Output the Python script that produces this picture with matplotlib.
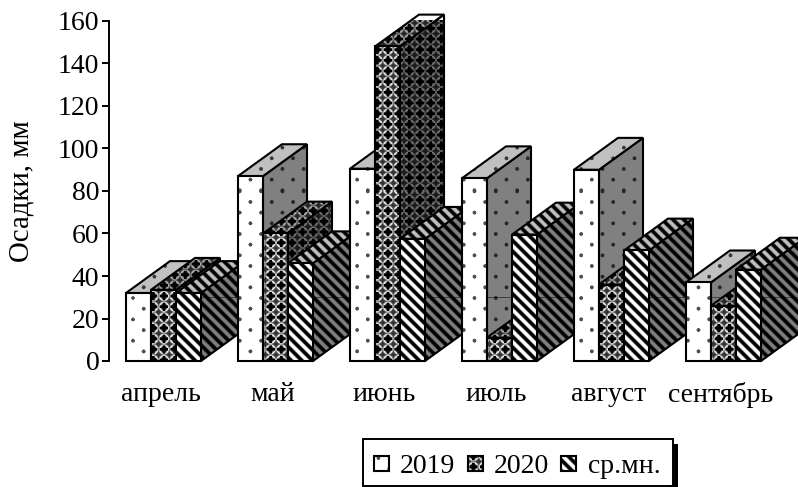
import numpy as np
import matplotlib
matplotlib.use('Agg')
import matplotlib.pyplot as plt
from matplotlib.patches import Polygon, Rectangle
from matplotlib.transforms import ScaledTranslation

plt.rcParams['font.family'] = ['Liberation Serif', 'DejaVu Serif']

# Monthly precipitation, mm
months = ['апрель', 'май', 'июнь', 'июль', 'август', 'сентябрь']
rain_2019 = [32, 87, 90.5, 86, 90, 37]
rain_2020 = [33.5, 60, 148, 11, 36, 26]
rain_mean = [32, 46, 57.5, 59.5, 52, 43]
series_names = ['2019', '2020', 'ср.мн.']
y_ticks = [0, 20, 40, 60, 80, 100, 120, 140, 160]

W, H = 798, 487
DPI = 100
FS = 20

# geometry of the pseudo-3D bars, x in category units, y in mm
GROUP_PX = 112.0
BAR_W = 25 / GROUP_PX
DEPTH_X = 44 / GROUP_PX
DEPTH_Y = 15.0
SIDE_LINE_Y = 30


def fill_patterns():
    # gray fill textures over the whole canvas, supersampled so they come out soft
    ss = 3
    yy, xx = np.mgrid[0:H * ss, 0:W * ss]
    xx = (xx + 0.5) / ss
    yy = (yy + 0.5) / ss
    P = 10.67

    # sparse staggered dots
    i = np.round((xx - 133) / P)
    j = np.round((yy - 298) / P)
    r = np.hypot(xx - 133 - i * P, yy - 298 - j * P)
    dots = np.where((r < 1.9) & ((i + j) % 2 == 0), 0.3, 1.0)

    # black crosses with bright spots on the diagonals between them
    du = np.abs((xx - 356) / P - np.round((xx - 356) / P)) * P
    dv = np.abs((yy - 72) / P - np.round((yy - 72) / P)) * P
    rr = np.hypot(du, dv) / P
    cross = 0.2 + 0.8 * np.exp(-((rr - 0.4) / 0.09) ** 2)
    cross[(np.minimum(du, dv) < 1.4) & (np.maximum(du, dv) < 4.2)] = 0.0

    # diagonal stripes
    stripes = np.clip(0.5 + 0.9 * np.cos(2 * np.pi * (xx - yy) / P), 0, 1)

    out = []
    for p in (dots, cross, stripes):
        p = p.reshape(H, ss, W, ss).mean(axis=(1, 3))
        out.append(p)
    return out


def textured(axis, pattern, shade, verts, transform, zorder):
    # gray texture clipped to a polygon, then its black outline on top
    poly = Polygon(verts, closed=True, transform=transform)
    im = axis.imshow(pattern * shade, cmap='gray', vmin=0, vmax=1, origin='upper',
                     extent=(0, 1, 0, 1), transform=fig.transFigure, aspect='auto',
                     interpolation='nearest', zorder=zorder)
    im.set_clip_box(None)
    im.set_clip_path(poly)
    axis.add_patch(Polygon(verts, closed=True, fill=False, edgecolor='black', linewidth=1.5,
                           joinstyle='miter', transform=transform, clip_on=False, zorder=zorder + 0.5))
    return poly


patterns = fill_patterns()

fig = plt.figure(figsize=(W / DPI, H / DPI), dpi=DPI, facecolor='white')

# 109..798 px wide, value 0 at y=361 and 160 at y=21
ax = fig.add_axes([109 / W, (H - 361) / H, (W - 109) / W, 340 / H])
xlim = ((109 - 163.5) / GROUP_PX, (W - 163.5) / GROUP_PX)

z = 3
for m in range(len(months)):
    for s, values in enumerate([rain_2019, rain_2020, rain_mean]):
        x0 = m + (s - 1.5) * BAR_W
        x1 = x0 + BAR_W
        v = values[m]
        side = [(x1, 0), (x1 + DEPTH_X, DEPTH_Y), (x1 + DEPTH_X, v + DEPTH_Y), (x1, v)]
        top = [(x0, v), (x1, v), (x1 + DEPTH_X, v + DEPTH_Y), (x0 + DEPTH_X, v + DEPTH_Y)]
        front = [(x0, 0), (x1, 0), (x1, v), (x0, v)]
        side_clip = textured(ax, patterns[s], 0.5, side, ax.transData, z)
        # thin level line that shows across the side faces
        line, = ax.plot([x1, x1 + DEPTH_X], [SIDE_LINE_Y, SIDE_LINE_Y], color='black',
                        linewidth=0.5, alpha=0.7, zorder=z + 0.2)
        line.set_clip_box(None)
        line.set_clip_path(side_clip)
        textured(ax, patterns[s], 0.75, top, ax.transData, z + 1)
        textured(ax, patterns[s], 1.0, front, ax.transData, z + 2)
        z += 3

ax.set_xlim(*xlim)
ax.set_ylim(0, 160)
ax.patch.set_alpha(0)
for name in ['top', 'right', 'bottom']:
    ax.spines[name].set_visible(False)
ax.spines['left'].set_linewidth(1.4)
ax.set_yticks(y_ticks)
ax.set_xticks(range(len(months)))
ax.set_xticklabels(months)
ax.tick_params(axis='y', length=5, width=1.4, labelsize=FS, pad=2)
ax.tick_params(axis='x', length=0, labelsize=FS, pad=15)
shift = ScaledTranslation(-3 / DPI, 0, fig.dpi_scale_trans)
for lab in ax.get_xticklabels():
    lab.set_transform(lab.get_transform() + shift)
ax.set_ylabel('Осадки, мм', fontsize=20.8, labelpad=17)

# legend box with a heavy shadow, drawn in pixel coordinates
lax = fig.add_axes([0, 0, 1, 1], zorder=10)
lax.set_xlim(0, W)
lax.set_ylim(H, 0)
lax.axis('off')
lax.add_patch(Rectangle((668, 444), 10, 45, facecolor='black', edgecolor='none'))
lax.add_patch(Rectangle((363, 439), 310, 47, facecolor='white', edgecolor='black', linewidth=1.4))
key_x = [374, 468, 561]
text_x = [400, 494, 588]
for s, name in enumerate(series_names):
    k = key_x[s]
    verts = [(k, 456), (k + 15, 456), (k + 15, 471), (k, 471)]
    textured(lax, patterns[s], 1.0, verts, lax.transData, 12)
    lax.text(text_x[s], 473, name, fontsize=FS, va='baseline', ha='left', zorder=14)
lax.set_xlim(0, W)
lax.set_ylim(H, 0)

fig.savefig('out.png', dpi=DPI)
